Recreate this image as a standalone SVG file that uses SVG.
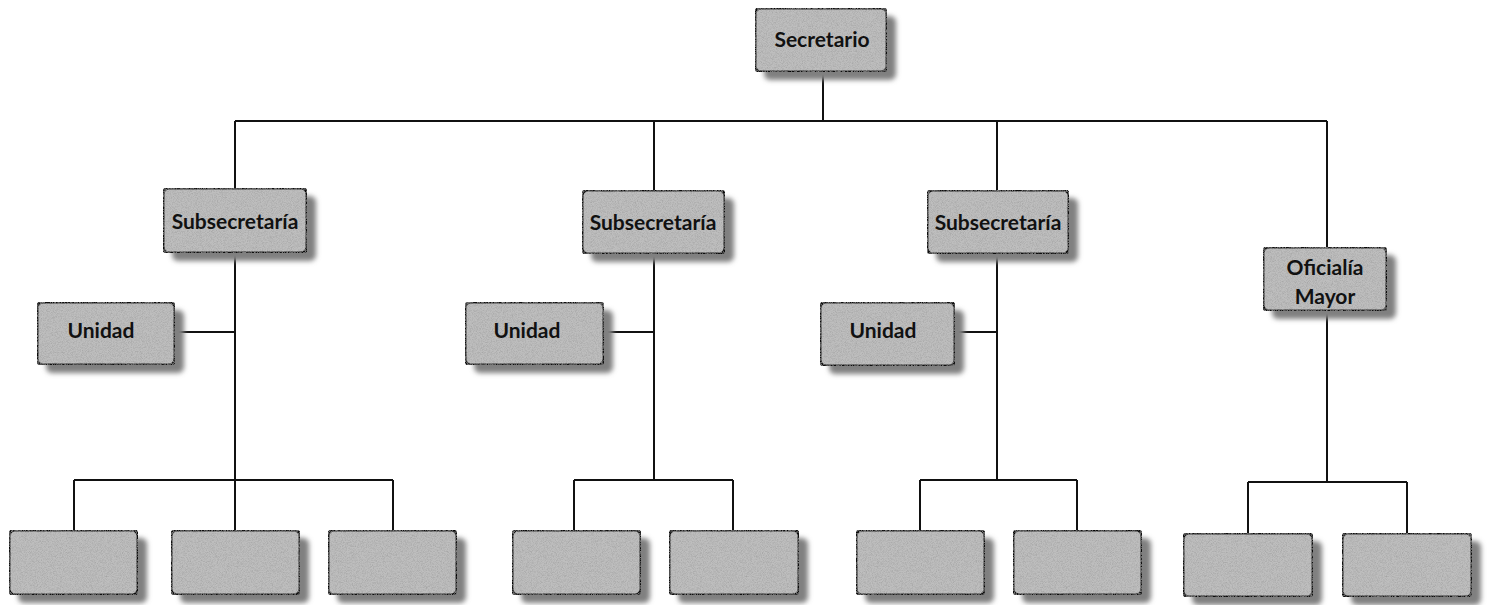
<svg xmlns="http://www.w3.org/2000/svg" width="1491" height="605" viewBox="0 0 1491 605">
  <defs>
    <filter id="blur" x="-20%" y="-20%" width="140%" height="140%">
      <feGaussianBlur stdDeviation="2.5"/>
    </filter>
    <filter id="grain" x="0" y="0" width="100%" height="100%">
      <feTurbulence type="fractalNoise" baseFrequency="1.2" numOctaves="2" seed="3" result="n"/>
      <feColorMatrix in="n" type="matrix" values="0 0 0 0 0.35  0 0 0 0 0.35  0 0 0 0 0.35  0 0 0 1.6 -0.6" result="dots"/>
      <feComposite in="dots" in2="SourceGraphic" operator="in" result="d2"/>
      <feMerge><feMergeNode in="SourceGraphic"/><feMergeNode in="d2"/></feMerge>
    </filter>
  </defs>
  <style>
    .shadow { fill: #808080; filter: url(#blur); }
    .box { fill: #bebebe; stroke: #111; stroke-width: 3; }
    .line { stroke: #111; stroke-width: 2; fill: none; }
    text { font-family: "Lato", "Open Sans", "Liberation Sans", sans-serif; font-weight: bold; font-size: 21px; fill: #111; text-anchor: middle; }
  </style>
  <rect width="1491" height="605" fill="#ffffff"/>

  <g id="connectors" class="line">
    <path d="M823 72 V121 M235 121 H1327 M235 121 V188 M654 121 V190 M997 121 V190 M1327 121 V247"/>
    <path d="M235 253 V480 M175 332 H235 M74 480 H393 M74 480 V530 M235 480 V530 M393 480 V530"/>
    <path d="M654 254 V480 M604 332 H654 M574 480 H733 M574 480 V530 M733 480 V530"/>
    <path d="M997 254 V480 M955 332 H997 M920 480 H1077 M920 480 V530 M1077 480 V530"/>
    <path d="M1327 311 V482 M1248 482 H1407 M1248 482 V533 M1407 482 V533"/>
  </g>

  <g id="secretario">
    <rect class="shadow" x="764" y="16" width="132" height="64" rx="6"/>
    <rect class="box" x="755" y="8" width="132" height="64" rx="6" filter="url(#grain)"/>
    <text x="822" y="47">Secretario</text>
  </g>

  <g id="subsecretaria1">
    <rect class="shadow" x="172" y="196" width="144" height="65" rx="6"/>
    <rect class="box" x="163" y="188" width="144" height="65" rx="6" filter="url(#grain)"/>
    <text x="235" y="229">Subsecretaría</text>
  </g>
  <g id="subsecretaria2">
    <rect class="shadow" x="591" y="198" width="143" height="64" rx="6"/>
    <rect class="box" x="582" y="190" width="143" height="64" rx="6" filter="url(#grain)"/>
    <text x="653" y="230">Subsecretaría</text>
  </g>
  <g id="subsecretaria3">
    <rect class="shadow" x="936" y="198" width="142" height="64" rx="6"/>
    <rect class="box" x="927" y="190" width="142" height="64" rx="6" filter="url(#grain)"/>
    <text x="998" y="230">Subsecretaría</text>
  </g>
  <g id="oficialia">
    <rect class="shadow" x="1272" y="255" width="124" height="64" rx="6"/>
    <rect class="box" x="1263" y="247" width="124" height="64" rx="6" filter="url(#grain)"/>
    <text x="1325" y="275">Oficialía</text>
    <text x="1325" y="304">Mayor</text>
  </g>

  <g id="unidad1">
    <rect class="shadow" x="46" y="310" width="138" height="63" rx="6"/>
    <rect class="box" x="37" y="302" width="138" height="63" rx="6" filter="url(#grain)"/>
    <text x="101" y="338">Unidad</text>
  </g>
  <g id="unidad2">
    <rect class="shadow" x="474" y="310" width="139" height="63" rx="6"/>
    <rect class="box" x="465" y="302" width="139" height="63" rx="6" filter="url(#grain)"/>
    <text x="527" y="338">Unidad</text>
  </g>
  <g id="unidad3">
    <rect class="shadow" x="829" y="310" width="135" height="64" rx="6"/>
    <rect class="box" x="820" y="302" width="135" height="64" rx="6" filter="url(#grain)"/>
    <text x="883" y="338">Unidad</text>
  </g>

  <g id="leaf1"><rect class="shadow" x="18" y="538" width="129" height="65" rx="6"/><rect class="box" x="9" y="530" width="129" height="65" rx="6" filter="url(#grain)"/></g>
  <g id="leaf2"><rect class="shadow" x="180" y="538" width="129" height="65" rx="6"/><rect class="box" x="171" y="530" width="129" height="65" rx="6" filter="url(#grain)"/></g>
  <g id="leaf3"><rect class="shadow" x="337" y="538" width="129" height="65" rx="6"/><rect class="box" x="328" y="530" width="129" height="65" rx="6" filter="url(#grain)"/></g>
  <g id="leaf4"><rect class="shadow" x="521" y="538" width="129" height="65" rx="6"/><rect class="box" x="512" y="530" width="129" height="65" rx="6" filter="url(#grain)"/></g>
  <g id="leaf5"><rect class="shadow" x="678" y="538" width="130" height="65" rx="6"/><rect class="box" x="669" y="530" width="130" height="65" rx="6" filter="url(#grain)"/></g>
  <g id="leaf6"><rect class="shadow" x="865" y="538" width="129" height="65" rx="6"/><rect class="box" x="856" y="530" width="129" height="65" rx="6" filter="url(#grain)"/></g>
  <g id="leaf7"><rect class="shadow" x="1022" y="538" width="129" height="65" rx="6"/><rect class="box" x="1013" y="530" width="129" height="65" rx="6" filter="url(#grain)"/></g>
  <g id="leaf8"><rect class="shadow" x="1192" y="541" width="130" height="64" rx="6"/><rect class="box" x="1183" y="533" width="130" height="64" rx="6" filter="url(#grain)"/></g>
  <g id="leaf9"><rect class="shadow" x="1351" y="541" width="130" height="64" rx="6"/><rect class="box" x="1342" y="533" width="130" height="64" rx="6" filter="url(#grain)"/></g>
</svg>
